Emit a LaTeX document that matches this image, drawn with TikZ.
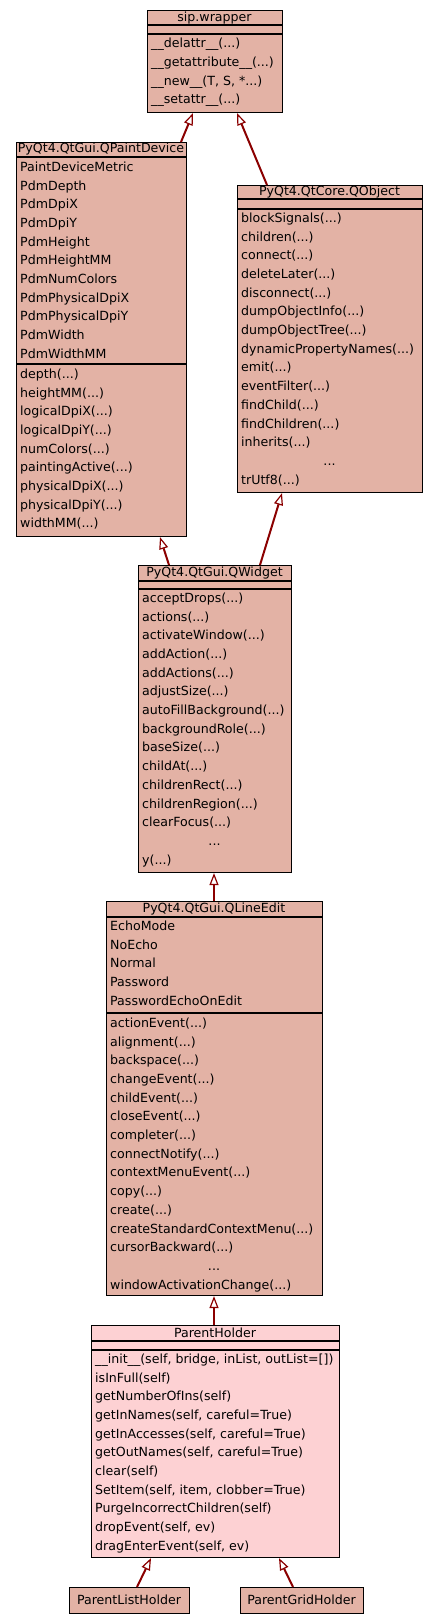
\documentclass[tikz,border=0pt]{standalone}
\usepackage{fontspec}
\setmainfont{DejaVu Sans}
\usetikzlibrary{arrows.meta}
\definecolor{cfill}{HTML}{E3B2A5}
\definecolor{pfill}{HTML}{FDD1D3}
\definecolor{edgec}{HTML}{8B0000}
\newcommand\ddd{...}
\newcommand\lines[4]{% #1 x, #2 first baseline, #3 prefix, #4 list
  \foreach \t [count=\i from 0] in {#4} {
    \node[txt] (#3\i) at (#1, {#2+\i*18.7}) {\t};
  }}
\begin{document}
\begin{tikzpicture}[x=1pt,y=-1pt,
  box/.style={draw=black, line width=1.1pt, fill=cfill, inner sep=0pt, anchor=north west},
  pbox/.style={box, fill=pfill},
  txt/.style={font=\fontsize{12.6}{15}\selectfont, inner sep=0pt, anchor=base west, text=black},
  ctxt/.style={txt, anchor=base},
  sepl/.style={draw=black, line width=1.1pt},
  inh/.style={draw=edgec, line width=2pt,
    -{Triangle[fill=white, length=12pt, width=9pt, line width=1.2pt]}}
]
\useasboundingbox (0,0) rectangle (437,1624);
\fill[white] (0,0) rectangle (437,1624);

% ---------- sip.wrapper
\node[box, minimum width=135pt, minimum height=102pt] (sip) at (147,10) {};
\draw[sepl] (147,25) -- (282,25);
\draw[sepl] (147,34) -- (282,34);
\node[ctxt] (sipT) at (214.5,21.5) {sip.wrapper};
\lines{151}{47.8}{sipM}{{\_\_delattr\_\_(\ddd)},{\_\_getattribute\_\_(\ddd)},{\_\_new\_\_(T, S, *\ddd)},{\_\_setattr\_\_(\ddd)}}

% ---------- QPaintDevice
\node[box, minimum width=170pt, minimum height=394pt] (qpd) at (16,142) {};
\draw[sepl] (16,157) -- (186,157);
\draw[sepl] (16,364) -- (186,364);
\node[ctxt] (qpdT) at (101,152.5) {PyQt4.QtGui.QPaintDevice};
\lines{20}{171.3}{qpdA}{PaintDeviceMetric,PdmDepth,PdmDpiX,PdmDpiY,PdmHeight,PdmHeightMM,PdmNumColors,PdmPhysicalDpiX,PdmPhysicalDpiY,PdmWidth,PdmWidthMM}
\lines{20}{378.3}{qpdM}{depth(\ddd),heightMM(\ddd),logicalDpiX(\ddd),logicalDpiY(\ddd),numColors(\ddd),paintingActive(\ddd),physicalDpiX(\ddd),physicalDpiY(\ddd),widthMM(\ddd)}

% ---------- QObject
\node[box, minimum width=185pt, minimum height=307pt] (qob) at (237,185) {};
\draw[sepl] (237,199) -- (422,199);
\draw[sepl] (237,209) -- (422,209);
\node[ctxt] (qobT) at (329.5,195.5) {PyQt4.QtCore.QObject};
\lines{241}{222.3}{qobM}{blockSignals(\ddd),children(\ddd),connect(\ddd),deleteLater(\ddd),disconnect(\ddd),dumpObjectInfo(\ddd),dumpObjectTree(\ddd),dynamicPropertyNames(\ddd),emit(\ddd),eventFilter(\ddd),findChild(\ddd),findChildren(\ddd),inherits(\ddd)}
\node[ctxt] (qobD) at (329.5,{222.3+13*18.7}) {\ddd};
\node[txt] (qobL) at (241,{222.3+14*18.7}) {trUtf8(\ddd)};

% ---------- QWidget
\node[box, minimum width=153pt, minimum height=307pt] (qwi) at (138,565) {};
\draw[sepl] (138,581) -- (291,581);
\draw[sepl] (138,589) -- (291,589);
\node[ctxt] (qwiT) at (214.5,576) {PyQt4.QtGui.QWidget};
\lines{142}{602.3}{qwiM}{acceptDrops(\ddd),actions(\ddd),activateWindow(\ddd),addAction(\ddd),addActions(\ddd),adjustSize(\ddd),autoFillBackground(\ddd),backgroundRole(\ddd),baseSize(\ddd),childAt(\ddd),childrenRect(\ddd),childrenRegion(\ddd),clearFocus(\ddd)}
\node[ctxt] (qwiD) at (214.5,{602.3+13*18.7}) {\ddd};
\node[txt] (qwiL) at (142,{602.3+14*18.7}) {y(\ddd)};

% ---------- QLineEdit
\node[box, minimum width=216pt, minimum height=394pt] (qle) at (106,901) {};
\draw[sepl] (106,917) -- (322,917);
\draw[sepl] (106,1013) -- (322,1013);
\node[ctxt] (qleT) at (214,912) {PyQt4.QtGui.QLineEdit};
\lines{110}{930.3}{qleA}{EchoMode,NoEcho,Normal,Password,PasswordEchoOnEdit}
\lines{110}{1027.3}{qleM}{actionEvent(\ddd),alignment(\ddd),backspace(\ddd),changeEvent(\ddd),childEvent(\ddd),closeEvent(\ddd),completer(\ddd),connectNotify(\ddd),contextMenuEvent(\ddd),copy(\ddd),create(\ddd),createStandardContextMenu(\ddd),cursorBackward(\ddd)}
\node[ctxt] (qleD) at (214,{1027.3+13*18.7}) {\ddd};
\node[txt] (qleL) at (110,{1027.3+14*18.7}) {windowActivationChange(\ddd)};

% ---------- ParentHolder
\node[pbox, minimum width=248pt, minimum height=232pt] (ph) at (91,1325) {};
\draw[sepl] (91,1341) -- (339,1341);
\draw[sepl] (91,1350) -- (339,1350);
\node[ctxt] (phT) at (215,1337) {ParentHolder};
\lines{95}{1363.3}{phM}{{\_\_init\_\_(self, bridge, inList, outList=[])},{isInFull(self)},{getNumberOfIns(self)},{getInNames(self, careful=True)},{getInAccesses(self, careful=True)},{getOutNames(self, careful=True)},{clear(self)},{SetItem(self, item, clobber=True)},{PurgeIncorrectChildren(self)},{dropEvent(self, ev)},{dragEnterEvent(self, ev)}}

% ---------- leaves
\node[box, minimum width=120pt, minimum height=26pt] (plh) at (69,1587) {};
\node[ctxt] (plhT) at (129,1604) {ParentListHolder};
\node[box, minimum width=123pt, minimum height=26pt] (pgh) at (240,1587) {};
\node[ctxt] (pghT) at (301.5,1604) {ParentGridHolder};

% ---------- inheritance arrows
\draw[inh] ([xshift=165pt]qpd.north west) -- ([xshift=46pt]sip.south west);
\draw[inh] ([xshift=30pt]qob.north west) -- ([xshift=90pt]sip.south west);
\draw[inh] ([xshift=31pt]qwi.north west) -- ([xshift=144pt]qpd.south west);
\draw[inh] ([xshift=122pt]qwi.north west) -- ([xshift=45pt]qob.south west);
\draw[inh] ([xshift=108pt]qle.north west) -- ([xshift=76pt]qwi.south west);
\draw[inh] ([xshift=123pt]ph.north west) -- ([xshift=108pt]qle.south west);
\draw[inh] ([xshift=68pt]plh.north west) -- ([xshift=60pt]ph.south west);
\draw[inh] ([xshift=53pt]pgh.north west) -- ([xshift=188pt]ph.south west);
\end{tikzpicture}
\end{document}
